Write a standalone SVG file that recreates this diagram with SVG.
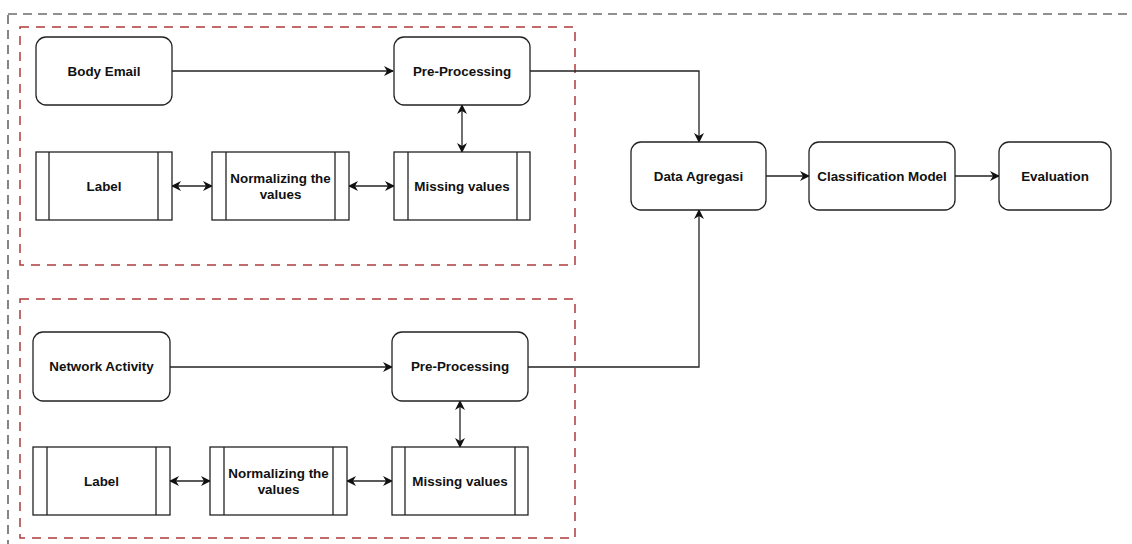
<svg xmlns="http://www.w3.org/2000/svg" width="1132" height="544" viewBox="0 0 1132 544">
<style>
.box{fill:#fff;stroke:#222;stroke-width:1.3}
.ln{fill:none;stroke:#222;stroke-width:1.3}
.t{font-family:"Liberation Sans",Arial,sans-serif;font-weight:bold;font-size:13.4px;fill:#111;text-anchor:middle;dominant-baseline:central}
.outer{fill:none;stroke:#222;stroke-width:1.1;stroke-dasharray:9 6}
.grp{fill:none;stroke:#b03a3a;stroke-width:1.5;stroke-dasharray:9 7}
</style>
<defs>
<marker id="ah" viewBox="0 0 10 10" refX="9" refY="5" markerWidth="10" markerHeight="10" markerUnits="userSpaceOnUse" orient="auto-start-reverse">
<path d="M0,0 L10,5 L0,10 L3,5 z" fill="#111"/>
</marker>
</defs>
<rect class="outer" x="8" y="14" width="1140" height="545"/>
<rect class="grp" x="20" y="27" width="555" height="238"/>
<rect class="grp" x="20" y="299" width="555" height="239"/>

<g id="connectors">
<line class="ln" x1="172" y1="71" x2="393" y2="71" marker-end="url(#ah)"/>
<line class="ln" x1="172" y1="186" x2="212" y2="186" marker-start="url(#ah)" marker-end="url(#ah)"/>
<line class="ln" x1="349" y1="186" x2="394" y2="186" marker-start="url(#ah)" marker-end="url(#ah)"/>
<line class="ln" x1="462" y1="105" x2="462" y2="152" marker-start="url(#ah)" marker-end="url(#ah)"/>
<polyline class="ln" points="530,71 699,71 699,142" marker-end="url(#ah)"/>
<line class="ln" x1="170" y1="367" x2="392" y2="367" marker-end="url(#ah)"/>
<line class="ln" x1="170" y1="481" x2="210" y2="481" marker-start="url(#ah)" marker-end="url(#ah)"/>
<line class="ln" x1="347" y1="481" x2="392" y2="481" marker-start="url(#ah)" marker-end="url(#ah)"/>
<line class="ln" x1="460" y1="401" x2="460" y2="447" marker-start="url(#ah)" marker-end="url(#ah)"/>
<polyline class="ln" points="528,367 699,367 699,210" marker-end="url(#ah)"/>
<line class="ln" x1="766" y1="176" x2="809" y2="176" marker-end="url(#ah)"/>
<line class="ln" x1="955" y1="176" x2="999" y2="176" marker-end="url(#ah)"/>
</g>

<g id="body-email"><rect class="box" x="36" y="37" width="136" height="68" rx="10"/><text class="t" x="104" y="71">Body Email</text></g>
<g id="preproc-1"><rect class="box" x="394" y="37" width="136" height="68" rx="10"/><text class="t" x="462" y="71">Pre-Processing</text></g>
<g id="label-1"><rect class="box" x="36" y="152" width="136" height="68"/><line class="ln" x1="49" y1="152" x2="49" y2="220"/><line class="ln" x1="158" y1="152" x2="158" y2="220"/><text class="t" x="104" y="186">Label</text></g>
<g id="normalize-1"><rect class="box" x="212" y="152" width="137" height="68"/><line class="ln" x1="226" y1="152" x2="226" y2="220"/><line class="ln" x1="335" y1="152" x2="335" y2="220"/><text class="t" x="280.5" y="178">Normalizing the</text><text class="t" x="280.5" y="194">values</text></g>
<g id="missing-1"><rect class="box" x="394" y="152" width="136" height="68"/><line class="ln" x1="408" y1="152" x2="408" y2="220"/><line class="ln" x1="517" y1="152" x2="517" y2="220"/><text class="t" x="462" y="186">Missing values</text></g>

<g id="network-activity"><rect class="box" x="33" y="332" width="137" height="69" rx="10"/><text class="t" x="101.5" y="366">Network Activity</text></g>
<g id="preproc-2"><rect class="box" x="392" y="332" width="136" height="69" rx="10"/><text class="t" x="460" y="366">Pre-Processing</text></g>
<g id="label-2"><rect class="box" x="33" y="447" width="137" height="68"/><line class="ln" x1="47" y1="447" x2="47" y2="515"/><line class="ln" x1="156" y1="447" x2="156" y2="515"/><text class="t" x="101.5" y="481">Label</text></g>
<g id="normalize-2"><rect class="box" x="210" y="447" width="137" height="68"/><line class="ln" x1="224" y1="447" x2="224" y2="515"/><line class="ln" x1="333" y1="447" x2="333" y2="515"/><text class="t" x="278.5" y="473">Normalizing the</text><text class="t" x="278.5" y="489">values</text></g>
<g id="missing-2"><rect class="box" x="392" y="447" width="136" height="68"/><line class="ln" x1="405" y1="447" x2="405" y2="515"/><line class="ln" x1="515" y1="447" x2="515" y2="515"/><text class="t" x="460" y="481">Missing values</text></g>

<g id="data-agregasi"><rect class="box" x="631" y="142" width="135" height="68" rx="10"/><text class="t" x="698.5" y="176">Data Agregasi</text></g>
<g id="classification-model"><rect class="box" x="809" y="142" width="146" height="68" rx="10"/><text class="t" x="882" y="176">Classification Model</text></g>
<g id="evaluation"><rect class="box" x="999" y="142" width="112" height="68" rx="10"/><text class="t" x="1055" y="176">Evaluation</text></g>
</svg>
